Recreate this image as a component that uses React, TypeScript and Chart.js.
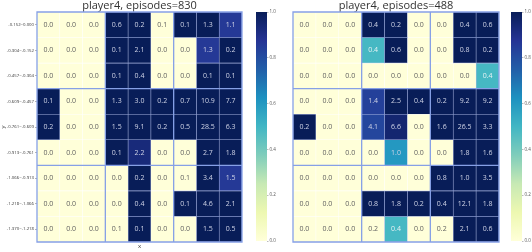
import React, { useEffect, useRef } from "react";
import { Chart, registerables } from "chart.js";

Chart.register(...registerables);

const yTickLabels = [
  "-0.152~0.000",
  "-0.304~-0.152",
  "-0.457~-0.304",
  "-0.609~-0.457",
  "-0.761~-0.609",
  "-0.913~-0.761",
  "-1.066~-0.913",
  "-1.218~-1.066",
  "-1.370~-1.218",
];
const columns = ["c0", "c1", "c2", "c3", "c4", "c5", "c6", "c7", "c8"];

const leftTitle = "player4, episodes=830";
const rightTitle = "player4, episodes=488";

// displayed numbers, rows top -> bottom
const leftValues = [
  [0.0, 0.0, 0.0, 0.6, 0.2, 0.1, 0.1, 1.3, 1.1],
  [0.0, 0.0, 0.0, 0.1, 2.1, 0.0, 0.0, 1.3, 0.2],
  [0.0, 0.0, 0.0, 0.1, 0.4, 0.0, 0.0, 0.1, 0.1],
  [0.1, 0.0, 0.0, 1.3, 3.0, 0.2, 0.7, 10.9, 7.7],
  [0.2, 0.0, 0.0, 1.5, 9.1, 0.2, 0.5, 28.5, 6.3],
  [0.0, 0.0, 0.0, 0.1, 2.2, 0.0, 0.0, 2.7, 1.8],
  [0.0, 0.0, 0.0, 0.0, 0.2, 0.0, 0.1, 3.4, 1.5],
  [0.0, 0.0, 0.0, 0.0, 0.4, 0.0, 0.1, 4.6, 2.1],
  [0.0, 0.0, 0.0, 0.1, 0.1, 0.0, 0.0, 1.5, 0.5],
];
// colour level (0..1 on the colour bar), rows top -> bottom
const leftLevels = [
  [0, 0, 0, 1, 1, 0, 1, 1, 0.86],
  [0, 0, 0, 1, 1, 0, 0, 0.86, 1],
  [0, 0, 0, 1, 1, 0, 0, 1, 1],
  [1, 0, 0, 1, 1, 1, 1, 1, 1],
  [1, 0, 0, 1, 1, 1, 1, 1, 1],
  [0, 0, 0, 1, 0.93, 0, 0, 1, 1],
  [0, 0, 0, 0, 1, 0, 0, 1, 0.86],
  [0, 0, 0, 0, 1, 0, 1, 1, 1],
  [0, 0, 0, 0, 1, 0, 0, 1, 1],
];

const rightValues = [
  [0.0, 0.0, 0.0, 0.4, 0.2, 0.0, 0.0, 0.4, 0.6],
  [0.0, 0.0, 0.0, 0.4, 0.6, 0.0, 0.0, 0.8, 0.2],
  [0.0, 0.0, 0.0, 0.0, 0.0, 0.0, 0.0, 0.0, 0.4],
  [0.0, 0.0, 0.0, 1.4, 2.5, 0.4, 0.2, 9.2, 9.2],
  [0.2, 0.0, 0.0, 4.1, 6.6, 0.0, 1.6, 26.5, 3.3],
  [0.0, 0.0, 0.0, 0.0, 1.0, 0.0, 0.0, 1.8, 1.6],
  [0.0, 0.0, 0.0, 0.0, 0.0, 0.0, 0.8, 1.0, 3.5],
  [0.0, 0.0, 0.0, 0.8, 1.8, 0.2, 0.4, 12.1, 1.8],
  [0.0, 0.0, 0.0, 0.2, 0.4, 0.0, 0.2, 2.1, 0.6],
];
const rightLevels = [
  [0, 0, 0, 1, 1, 0, 0, 1, 1],
  [0, 0, 0, 0.49, 1, 0, 0, 1, 1],
  [0, 0, 0, 0, 0, 0, 0, 0, 0.49],
  [0, 0, 0, 0.84, 1, 1, 1, 1, 1],
  [1, 0, 0, 0.82, 0.95, 0, 1, 1, 1],
  [0, 0, 0, 0, 0.6, 0, 0, 1, 1],
  [0, 0, 0, 0, 0, 0, 1, 1, 1],
  [0, 0, 0, 1, 1, 1, 1, 1, 1],
  [0, 0, 0, 0, 0.49, 0, 0, 1, 1],
];

const colorbarTicks = [0, 0.2, 0.4, 0.6, 0.8, 1.0];

const YLGNBU = [
  [0.0, [255, 255, 217]],
  [0.125, [237, 248, 177]],
  [0.25, [199, 233, 180]],
  [0.375, [127, 205, 187]],
  [0.5, [65, 182, 196]],
  [0.625, [29, 145, 192]],
  [0.75, [34, 94, 168]],
  [0.875, [37, 52, 148]],
  [1.0, [8, 29, 88]],
] as [number, number[]][];

function cmap(t: number): string {
  const v = Math.max(0, Math.min(1, t));
  for (let i = 1; i < YLGNBU.length; i++) {
    const [p1, c1] = YLGNBU[i];
    const [p0, c0] = YLGNBU[i - 1];
    if (v <= p1) {
      const f = (v - p0) / (p1 - p0);
      const c = c0.map((a, k) => Math.round(a + (c1[k] - a) * f));
      return `rgb(${c[0]},${c[1]},${c[2]})`;
    }
  }
  return "rgb(8,29,88)";
}

const FONT = "'Open Sans', 'DejaVu Sans', sans-serif";
const BLOCK_LINE = "#86a0e6";

const heatPlugin = {
  id: "heatText",
  afterDatasetsDraw(chart: any, _args: any, opts: any) {
    const { ctx } = chart;
    const values: number[][] = opts.values;
    const levels: number[][] = opts.levels;
    ctx.save();
    ctx.font = `7px ${FONT}`;
    ctx.textAlign = "center";
    ctx.textBaseline = "middle";
    chart.data.datasets.forEach((_ds: any, di: number) => {
      const meta = chart.getDatasetMeta(di);
      const row = 8 - di;
      meta.data.forEach((el: any, ci: number) => {
        const cy = (el.y + el.base) / 2;
        const lvl = levels[row][ci];
        ctx.fillStyle = lvl > 0.55 ? "#cfd3e6" : lvl > 0.3 ? "#e8f2f4" : "#5e5e5e";
        ctx.fillText(values[row][ci].toFixed(1), el.x, cy);
      });
    });
    // block outlines
    const xs = chart.scales.x;
    const ys = chart.scales.y;
    ctx.strokeStyle = BLOCK_LINE;
    ctx.lineWidth = 1.3;
    const x0 = xs.getPixelForValue(-0.5);
    const x9 = xs.getPixelForValue(8.5);
    const y0 = ys.getPixelForValue(0);
    const y9 = ys.getPixelForValue(9);
    ctx.beginPath();
    [2.5, 5.5].forEach((v) => {
      const px = xs.getPixelForValue(v);
      ctx.moveTo(px, y9);
      ctx.lineTo(px, y0);
    });
    [3, 6].forEach((v) => {
      const py = ys.getPixelForValue(v);
      ctx.moveTo(x0, py);
      ctx.lineTo(x9, py);
    });
    ctx.rect(x0, y9, x9 - x0, y0 - y9);
    ctx.stroke();
    ctx.restore();
  },
};

function buildHeat(
  canvas: HTMLCanvasElement,
  values: number[][],
  levels: number[][],
  title: string,
  showAxes: boolean,
  padLeft: number
) {
  const datasets = [];
  for (let di = 0; di < 9; di++) {
    const row = 8 - di;
    datasets.push({
      label: yTickLabels[row],
      data: columns.map(() => 1),
      backgroundColor: levels[row].map((l) => cmap(l)),
      borderColor: levels[row].map((l) => (l > 0.3 ? "rgba(90,115,200,0.45)" : "rgba(0,0,0,0)")),
      borderWidth: 0.6,
      borderSkipped: false,
      barPercentage: 1,
      categoryPercentage: 1,
    });
  }
  const xScale: any = {
    type: "category",
    stacked: true,
    display: showAxes,
    grid: { display: false },
    border: { display: false },
    ticks: { display: false },
    title: {
      display: showAxes,
      text: "x",
      color: "#333",
      font: { family: FONT, size: 6, lineHeight: 1.2 },
      padding: { top: 0, bottom: 2 },
    },
  };
  const yScale: any = {
    type: "linear",
    stacked: true,
    min: 0,
    max: 9,
    display: showAxes,
    afterBuildTicks: (axis: any) => {
      axis.ticks = yTickLabels.map((_l, i) => ({ value: 8.5 - i }));
    },
    ticks: {
      autoSkip: false,
      padding: 1,
      color: "#333",
      font: { family: FONT, size: 4.3 },
      callback: (v: any) => yTickLabels[Math.round(8.5 - Number(v))],
    },
    grid: { drawOnChartArea: false, drawTicks: true, tickLength: 2, color: "#666", lineWidth: 0.5 },
    border: { display: false },
    title: {
      display: true,
      text: "y",
      color: "#333",
      font: { family: FONT, size: 6, lineHeight: 1.2 },
      padding: 0,
    },
  };
  if (showAxes) {
    xScale.afterFit = (axis: any) => {
      axis.height = 10;
    };
    yScale.afterFit = (axis: any) => {
      axis.width = 37;
    };
  }
  return new Chart(canvas, {
    type: "bar",
    data: { labels: columns, datasets },
    plugins: [heatPlugin],
    options: {
      animation: false,
      responsive: false,
      maintainAspectRatio: false,
      events: [],
      layout: { padding: { left: padLeft, right: showAxes ? 8 : 6, top: 0, bottom: showAxes ? 0 : 10 } },
      plugins: {
        legend: { display: false },
        tooltip: { enabled: false },
        title: {
          display: true,
          text: title,
          fullSize: false,
          color: "#333",
          font: { family: FONT, size: 11, weight: "normal", lineHeight: 1.0 },
          padding: { top: 0, bottom: 1 },
        },
        heatText: { values, levels },
      } as any,
      scales: { x: xScale, y: yScale },
    } as any,
  });
}

function buildColorbar(canvas: HTMLCanvasElement, padLeft: number, axisWidth: number) {
  return new Chart(canvas, {
    type: "bar",
    data: {
      labels: ["cb"],
      datasets: [
        {
          data: [1],
          barPercentage: 1,
          categoryPercentage: 1,
          borderWidth: 0,
          backgroundColor: (ctx: any) => {
            const { chart } = ctx;
            const area = chart.chartArea;
            if (!area) return "#081d58";
            const g = chart.ctx.createLinearGradient(0, area.bottom, 0, area.top);
            YLGNBU.forEach(([p, c]) => g.addColorStop(p, `rgb(${c[0]},${c[1]},${c[2]})`));
            return g;
          },
        },
      ],
    },
    options: {
      animation: false,
      responsive: false,
      maintainAspectRatio: false,
      events: [],
      layout: { padding: { left: padLeft, right: 0, top: 12, bottom: 11 } },
      plugins: { legend: { display: false }, tooltip: { enabled: false }, title: { display: false } },
      scales: {
        x: { display: false },
        y: {
          position: "right",
          min: 0,
          max: 1,
          afterBuildTicks: (axis: any) => {
            axis.ticks = colorbarTicks.map((v) => ({ value: v }));
          },
          ticks: {
            padding: 1,
            color: "#555",
            font: { family: FONT, size: 4.5 },
            callback: (v: any) => Number(v).toFixed(1),
          },
          grid: { drawOnChartArea: false, drawTicks: true, tickLength: 1.5, color: "#777", lineWidth: 0.5 },
          border: { display: false },
          afterFit: (axis: any) => {
            axis.width = axisWidth;
          },
        },
      },
    } as any,
  });
}

export default function App() {
  const c1 = useRef<HTMLCanvasElement>(null);
  const c2 = useRef<HTMLCanvasElement>(null);
  const c3 = useRef<HTMLCanvasElement>(null);
  const c4 = useRef<HTMLCanvasElement>(null);

  useEffect(() => {
    const charts = [
      buildHeat(c1.current!, leftValues, leftLevels, leftTitle, true, 0),
      buildColorbar(c2.current!, 6, 18),
      buildHeat(c3.current!, rightValues, rightLevels, rightTitle, false, 8),
      buildColorbar(c4.current!, 6, 10),
    ];
    return () => charts.forEach((c) => c.destroy());
  }, []);

  const base: React.CSSProperties = { position: "absolute", top: 0, height: 252 };
  return (
    <div style={{ position: "absolute", left: 0, top: 0, width: 532, height: 252, background: "#fff" }}>
      <canvas ref={c1} width={250} height={252} style={{ ...base, left: 0, width: 250 }} />
      <canvas ref={c2} width={35} height={252} style={{ ...base, left: 250, width: 35 }} />
      <canvas ref={c3} width={220} height={252} style={{ ...base, left: 285, width: 220 }} />
      <canvas ref={c4} width={27} height={252} style={{ ...base, left: 505, width: 27 }} />
    </div>
  );
}
